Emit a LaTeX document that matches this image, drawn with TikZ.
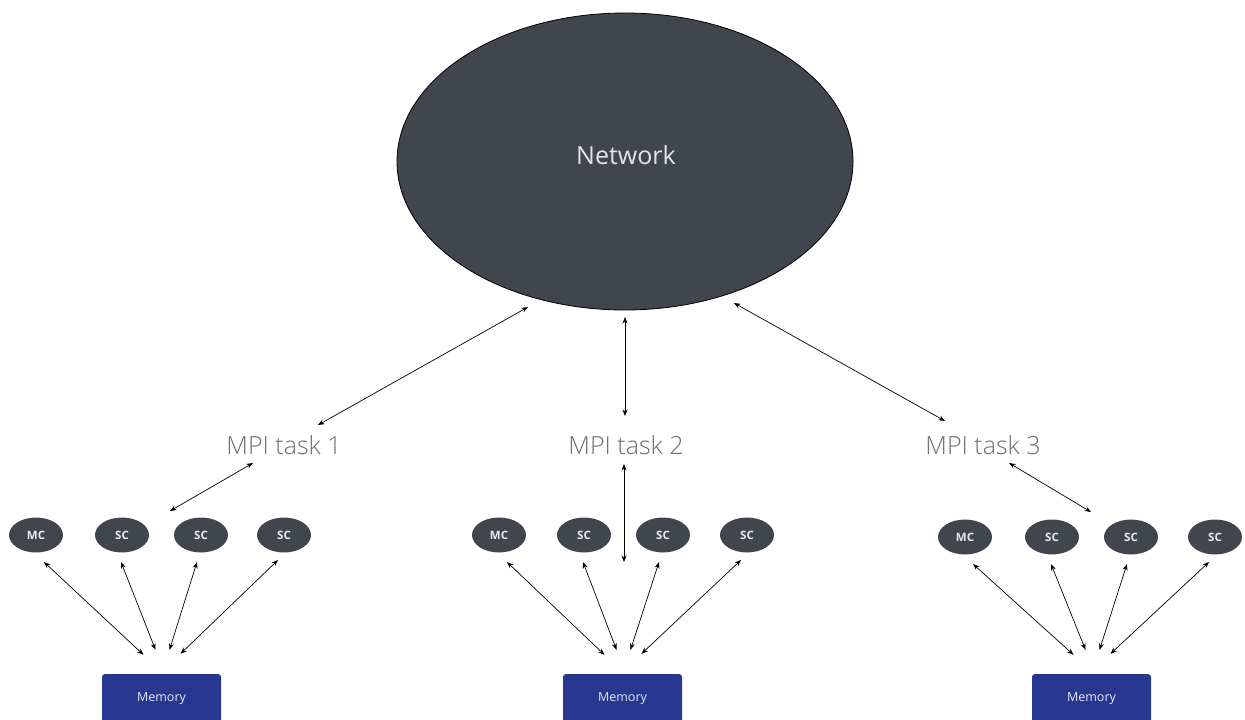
\documentclass[tikz,border=0pt]{standalone}
\usepackage{fontspec}
\setmainfont{Open Sans}
\newfontfamily\lightfont{Open Sans Light}
\usetikzlibrary{arrows.meta,shapes.geometric}
\definecolor{slate}{HTML}{41454E}
\definecolor{memblue}{HTML}{283891}
\definecolor{tasktext}{HTML}{6B6E75}
\tikzset{
  netnode/.style={ellipse, fill=slate, draw=black, line width=0.8pt, inner sep=0pt,
    minimum width=456pt, minimum height=297pt, text=black!10,
    font=\fontsize{25}{30}\selectfont},
  core/.style={ellipse, fill=slate, inner sep=0pt, minimum width=54pt, minimum height=35pt,
    text=white!92!black, font=\bfseries\fontsize{11.5}{13}\selectfont},
  tasklabel/.style={text=tasktext, inner sep=0pt, font=\lightfont\fontsize{25}{30}\selectfont},
  membox/.style={fill=memblue, rounded corners=3pt, inner sep=0pt, minimum width=119pt,
    minimum height=50pt, text=white!88!memblue, font=\fontsize{12.5}{15}\selectfont},
  link/.style={{Stealth[length=6.5pt,width=5pt]}-{Stealth[length=6.5pt,width=5pt]}, line width=0.7pt, black}
}
\begin{document}
\begin{tikzpicture}[x=1pt,y=-1pt]
\useasboundingbox (0,0) rectangle (1245,720);
\clip (0,0) rectangle (1245,720);
\fill[white] (0,0) rectangle (1245,720);

% central network
\node[netnode] (net) at (625,161.5) {};
\node[text=black!10, font=\fontsize{25}{30}\selectfont, inner sep=0pt] (netlabel) at (626,155) {Network};

% MPI task labels
\node[tasklabel] (task1) at (284,445) {MPI task 1};
\node[tasklabel] (task2) at (626,445) {MPI task 2};
\node[tasklabel] (task3) at (983,445) {MPI task 3};

% network <-> task links
\coordinate (n1a) at (528,307); \coordinate (n1b) at (318,425);
\coordinate (n2a) at (625,317); \coordinate (n2b) at (625,416);
\coordinate (n3a) at (734,303); \coordinate (n3b) at (945,421);
\draw[link] (n1b) -- (n1a);
\draw[link] (n2b) -- (n2a);
\draw[link] (n3b) -- (n3a);

% task <-> cores links
\coordinate (t1a) at (253,463); \coordinate (t1b) at (170,511);
\coordinate (t2a) at (624,464); \coordinate (t2b) at (624,562);
\coordinate (t3a) at (1009,463); \coordinate (t3b) at (1091,512);
\draw[link] (t1a) -- (t1b);
\draw[link] (t2a) -- (t2b);
\draw[link] (t3a) -- (t3b);

% cores and memory of each task
\foreach \g/\y/\xa/\xb/\xc/\xd/\mx in {1/535/36/122/201/284/161.5,
                                        2/535/499/584/663/747/622.5,
                                        3/537/965/1052/1131/1215/1091.5}{
  \node[core] (mc\g) at (\xa,\y) {MC};
  \node[core] (sca\g) at (\xb,\y) {SC};
  \node[core] (scb\g) at (\xc,\y) {SC};
  \node[core] (scc\g) at (\xd,\y) {SC};
  \node[membox] (mem\g) at (\mx,699) {Memory};
  \coordinate (pa\g) at ([shift={(8,27)}]mc\g.center);
  \coordinate (pb\g) at ([shift={(-1,27)}]sca\g.center);
  \coordinate (pc\g) at ([shift={(-4,27)}]scb\g.center);
  \coordinate (pd\g) at ([shift={(-6,25)}]scc\g.center);
  \coordinate (qa\g) at ([shift={(-18,-19)}]mem\g.north);
  \coordinate (qb\g) at ([shift={(-6,-24)}]mem\g.north);
  \coordinate (qc\g) at ([shift={(8,-24)}]mem\g.north);
  \coordinate (qd\g) at ([shift={(19,-20)}]mem\g.north);
  \draw[link] (pa\g) -- (qa\g);
  \draw[link] (pb\g) -- (qb\g);
  \draw[link] (pc\g) -- (qc\g);
  \draw[link] (pd\g) -- (qd\g);
}
\end{tikzpicture}
\end{document}
